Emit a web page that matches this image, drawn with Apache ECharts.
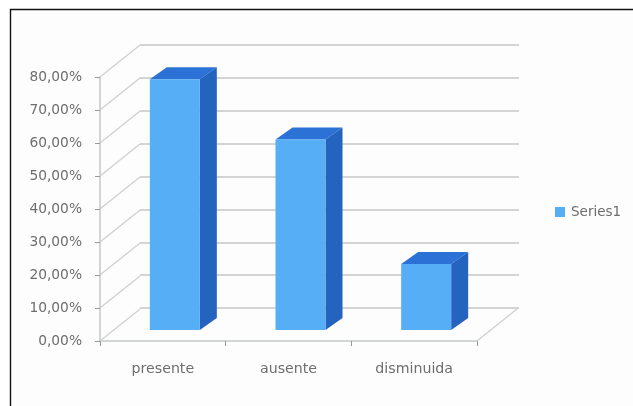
<!DOCTYPE html>
<html>
<head>
<meta charset="utf-8">
<style>html,body{margin:0;padding:0;background:#fff}#c{width:633px;height:406px}</style>
<script src="https://cdn.jsdelivr.net/npm/echarts@6/dist/echarts.min.js"></script>
</head>
<body>
<div id="c"></div>
<script>
const categories = ['presente', 'ausente', 'disminuida'];
const seriesValues = [76, 57.7, 20];
const tickValues = [0, 10, 20, 30, 40, 50, 60, 70, 80];
const tickLabels = ['0,00%', '10,00%', '20,00%', '30,00%', '40,00%', '50,00%', '60,00%', '70,00%', '80,00%'];

const wallDepth = [40, -32];
const barOffset = [12, -11];
const barDepth = [17, -12];
const barHalfWidth = 25;
const gridColor = '#c4c7c7';
const textColor = '#6e6e6e';
const font = '"DejaVu Sans"';

const chart = echarts.init(document.getElementById('c'), null, { renderer: 'canvas' });

function renderWall(params, api) {
  const cs = params.coordSys;
  const y = api.coord([0, api.value(1)])[1];
  const lineStyle = { stroke: '#cdd0d0', lineWidth: 1.3, fill: null };
  const kids = [{
    type: 'line',
    shape: { x1: cs.x, y1: y, x2: cs.x + wallDepth[0], y2: y + wallDepth[1] },
    style: lineStyle
  }];
  if (api.value(1) === 0) {
    kids.push({
      type: 'line',
      shape: { x1: cs.x + cs.width, y1: y, x2: cs.x + cs.width + wallDepth[0], y2: y + wallDepth[1] },
      style: lineStyle
    });
  }
  return { type: 'group', children: kids };
}

function renderBar(params, api) {
  const top = api.coord([api.value(0), api.value(1)]);
  const base = api.coord([api.value(0), 0]);
  const l = top[0] + barOffset[0] - barHalfWidth;
  const r = top[0] + barOffset[0] + barHalfWidth;
  const t = top[1] + barOffset[1];
  const b = base[1] + barOffset[1];
  const dx = barDepth[0], dy = barDepth[1];
  return {
    type: 'group',
    children: [
      { type: 'polygon', shape: { points: [[l, t], [r, t], [r + dx, t + dy], [l + dx, t + dy]] }, style: { fill: '#2c72d6' } },
      { type: 'polygon', shape: { points: [[r, t], [r + dx, t + dy], [r + dx, b + dy], [r, b]] }, style: { fill: '#2463be' } },
      { type: 'rect', shape: { x: l, y: t, width: r - l, height: b - t }, style: { fill: '#55aef6' } }
    ]
  };
}

chart.setOption({
  animation: false,
  backgroundColor: '#ffffff',
  graphic: [
    { type: 'rect', silent: true, z: -10, shape: { x: 11, y: 10, width: 622, height: 396 }, style: { fill: '#fdfdfd' } },
    { type: 'polyline', silent: true, z: 10, shape: { points: [[10.5, 406], [10.5, 9.5], [633, 9.5]] }, style: { stroke: '#111111', lineWidth: 1.4, fill: null } }
  ],
  legend: {
    data: ['Series1'],
    left: 555,
    top: 205,
    orient: 'vertical',
    icon: 'rect',
    itemWidth: 10,
    itemHeight: 10,
    itemGap: 0,
    padding: 0,
    selectedMode: false,
    textStyle: { color: textColor, fontFamily: font, fontSize: 13.5, padding: [0, 0, 0, 1] }
  },
  grid: [
    { left: 100, top: 77, width: 377, height: 264 },
    { left: 140, top: 45, width: 379, height: 263 }
  ],
  xAxis: [
    {
      type: 'category', gridIndex: 0, data: categories,
      axisLine: { lineStyle: { color: gridColor, width: 1.5 } },
      axisTick: { show: true, length: 5, lineStyle: { color: '#999999' } },
      axisLabel: { color: textColor, fontFamily: font, fontSize: 14.2, margin: 21 }
    },
    {
      type: 'category', gridIndex: 1, data: categories,
      axisLine: { show: false }, axisTick: { show: false }, axisLabel: { show: false }
    }
  ],
  yAxis: [
    {
      type: 'value', gridIndex: 0, min: 0, max: 80, interval: 10,
      axisLine: { show: true, lineStyle: { color: gridColor, width: 1.5 } },
      axisTick: { show: true, length: 5, lineStyle: { color: '#999999' } },
      splitLine: { show: false },
      axisLabel: {
        color: textColor, fontFamily: font, fontSize: 13.8, margin: 18,
        formatter: v => tickLabels[tickValues.indexOf(v)]
      }
    },
    {
      type: 'value', gridIndex: 1, min: 0, max: 80, interval: 10,
      axisLine: { show: false }, axisTick: { show: false }, axisLabel: { show: false },
      splitLine: { show: true, lineStyle: { color: gridColor, width: 1.5 } }
    }
  ],
  series: [
    {
      type: 'custom', name: 'walls', xAxisIndex: 0, yAxisIndex: 0, silent: true, clip: false, z: 1,
      data: tickValues.map(v => [0, v]),
      renderItem: renderWall
    },
    {
      type: 'custom', name: 'Series1', xAxisIndex: 0, yAxisIndex: 0, silent: true, clip: false, z: 5,
      itemStyle: { color: '#55aef6' },
      data: categories.map((c, i) => [i, seriesValues[i]]),
      renderItem: renderBar
    }
  ]
});
</script>
</body>
</html>
